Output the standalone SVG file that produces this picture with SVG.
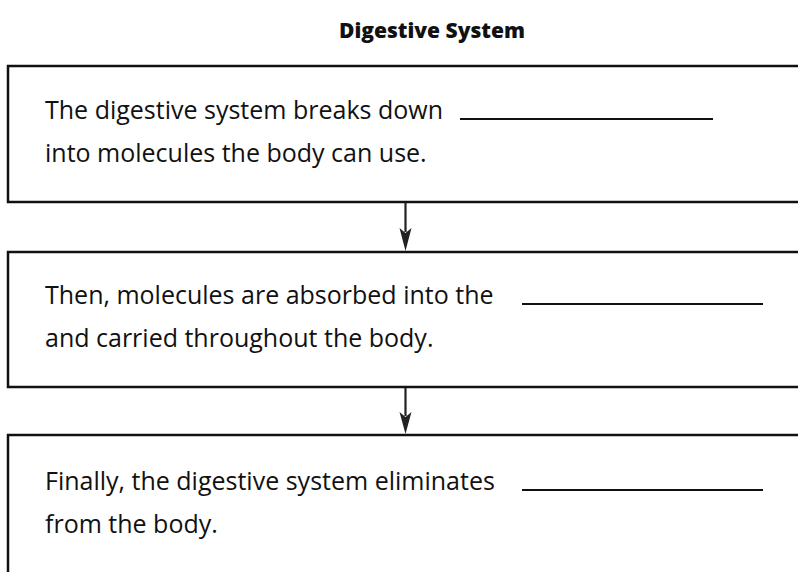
<svg xmlns="http://www.w3.org/2000/svg" width="798" height="572" viewBox="0 0 798 572">
<defs>
<style>
.box{fill:none;stroke:#111;stroke-width:2.5}
.t{font-family:"Open Sans","Noto Sans","Liberation Sans",sans-serif;font-size:25px;fill:#111}
.title{font-family:"Open Sans","Noto Sans","Liberation Sans",sans-serif;font-size:21px;font-weight:800;fill:#111}
.blank{stroke:#111;stroke-width:2.2}
.conn{stroke:#222;stroke-width:2.2;fill:none}
.head{fill:#222}
</style>
</defs>
<rect width="798" height="572" fill="#fff"/>
<text class="title" x="432" y="38" text-anchor="middle">Digestive System</text>
<g id="node1">
<rect class="box" x="8" y="66" width="800" height="136"/>
<text class="t" x="45" y="119">The digestive system breaks down</text>
<line class="blank" x1="460" y1="119" x2="713" y2="119"/>
<text class="t" x="45" y="162">into molecules the body can use.</text>
</g>
<g id="node2">
<rect class="box" x="8" y="252" width="800" height="135"/>
<text class="t" x="45" y="304">Then, molecules are absorbed into the</text>
<line class="blank" x1="522" y1="304" x2="763" y2="304"/>
<text class="t" x="45" y="347">and carried throughout the body.</text>
</g>
<g id="node3">
<rect class="box" x="8" y="435" width="800" height="160"/>
<text class="t" x="45" y="490">Finally, the digestive system eliminates</text>
<line class="blank" x1="522" y1="490" x2="763" y2="490"/>
<text class="t" x="45" y="533">from the body.</text>
</g>
<g id="connectors">
<line class="conn" x1="405.5" y1="203" x2="405.5" y2="232"/>
<path class="head" d="M399.5,228 L405.5,251 L411.5,228 L405.5,233 Z"/>
<line class="conn" x1="405.5" y1="388" x2="405.5" y2="416"/>
<path class="head" d="M399.5,412 L405.5,434 L411.5,412 L405.5,417 Z"/>
</g>
</svg>
